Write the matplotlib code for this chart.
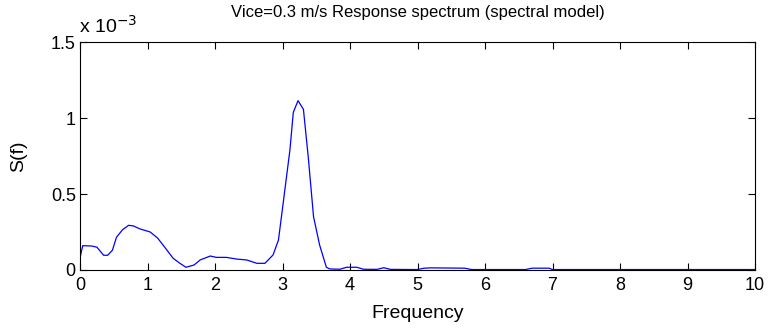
import matplotlib
matplotlib.use("Agg")
import matplotlib.pyplot as plt

plt.rcParams['font.family'] = ['Liberation Sans', 'DejaVu Sans']

# Frequency samples and spectrum values (in units of 1e-3)
freq = [0.00, 0.04, 0.17, 0.25, 0.35, 0.41, 0.48, 0.54, 0.63, 0.72, 0.79, 0.89,
        1.04, 1.15, 1.26, 1.38, 1.48, 1.57, 1.69, 1.78, 1.93, 2.02, 2.17, 2.32,
        2.47, 2.62, 2.74, 2.86, 2.94, 3.01, 3.11, 3.16, 3.23, 3.31, 3.38, 3.46,
        3.55, 3.65, 3.70, 3.85, 3.95, 4.10, 4.20, 4.40, 4.50, 4.60, 5.00, 5.10,
        5.20, 5.70, 5.80, 6.60, 6.70, 6.95, 7.00, 10.00]
spec = [0.079, 0.160, 0.158, 0.150, 0.097, 0.097, 0.130, 0.215, 0.265, 0.294, 0.290, 0.270,
        0.250, 0.210, 0.147, 0.077, 0.044, 0.018, 0.033, 0.066, 0.092, 0.083, 0.083, 0.072,
        0.066, 0.044, 0.044, 0.099, 0.197, 0.440, 0.790, 1.037, 1.114, 1.057, 0.750, 0.350,
        0.164, 0.018, 0.007, 0.005, 0.018, 0.018, 0.005, 0.004, 0.015, 0.004, 0.003, 0.012,
        0.014, 0.012, 0.003, 0.003, 0.012, 0.012, 0.003, 0.003]

xticks = [0, 1, 2, 3, 4, 5, 6, 7, 8, 9, 10]
yticks = [0, 0.5, 1, 1.5]
ytick_labels = ['0', '0.5', '1', '1.5']

fig = plt.figure(figsize=(7.69, 3.28), dpi=100)
ax = fig.add_axes([80/769, 58/328, 675/769, 228/328])
ax.plot(freq, spec, color='#0000ff', lw=0.9)
ax.set_xlim(0, 10)
ax.set_ylim(0, 1.5)
ax.set_xticks(xticks)
ax.set_yticks(yticks)
ax.set_yticklabels(ytick_labels)
ax.tick_params(direction='in', length=5, width=0.8, top=True, right=True,
               labelsize=13, pad=3)
ax.tick_params(axis='x', pad=5)
for s in ax.spines.values():
    s.set_linewidth(0.8)
ax.set_xlabel('Frequency', fontsize=14, labelpad=8)
ax.set_ylabel('S(f)', fontsize=14, labelpad=17)
ax.set_title('Vice=0.3 m/s Response spectrum (spectral model)', fontsize=12, pad=18)
ax.text(-0.002, 1.025, r'x 10$^{-3}$', transform=ax.transAxes, fontsize=14,
        ha='left', va='bottom')
fig.savefig('out.png', dpi=100)
